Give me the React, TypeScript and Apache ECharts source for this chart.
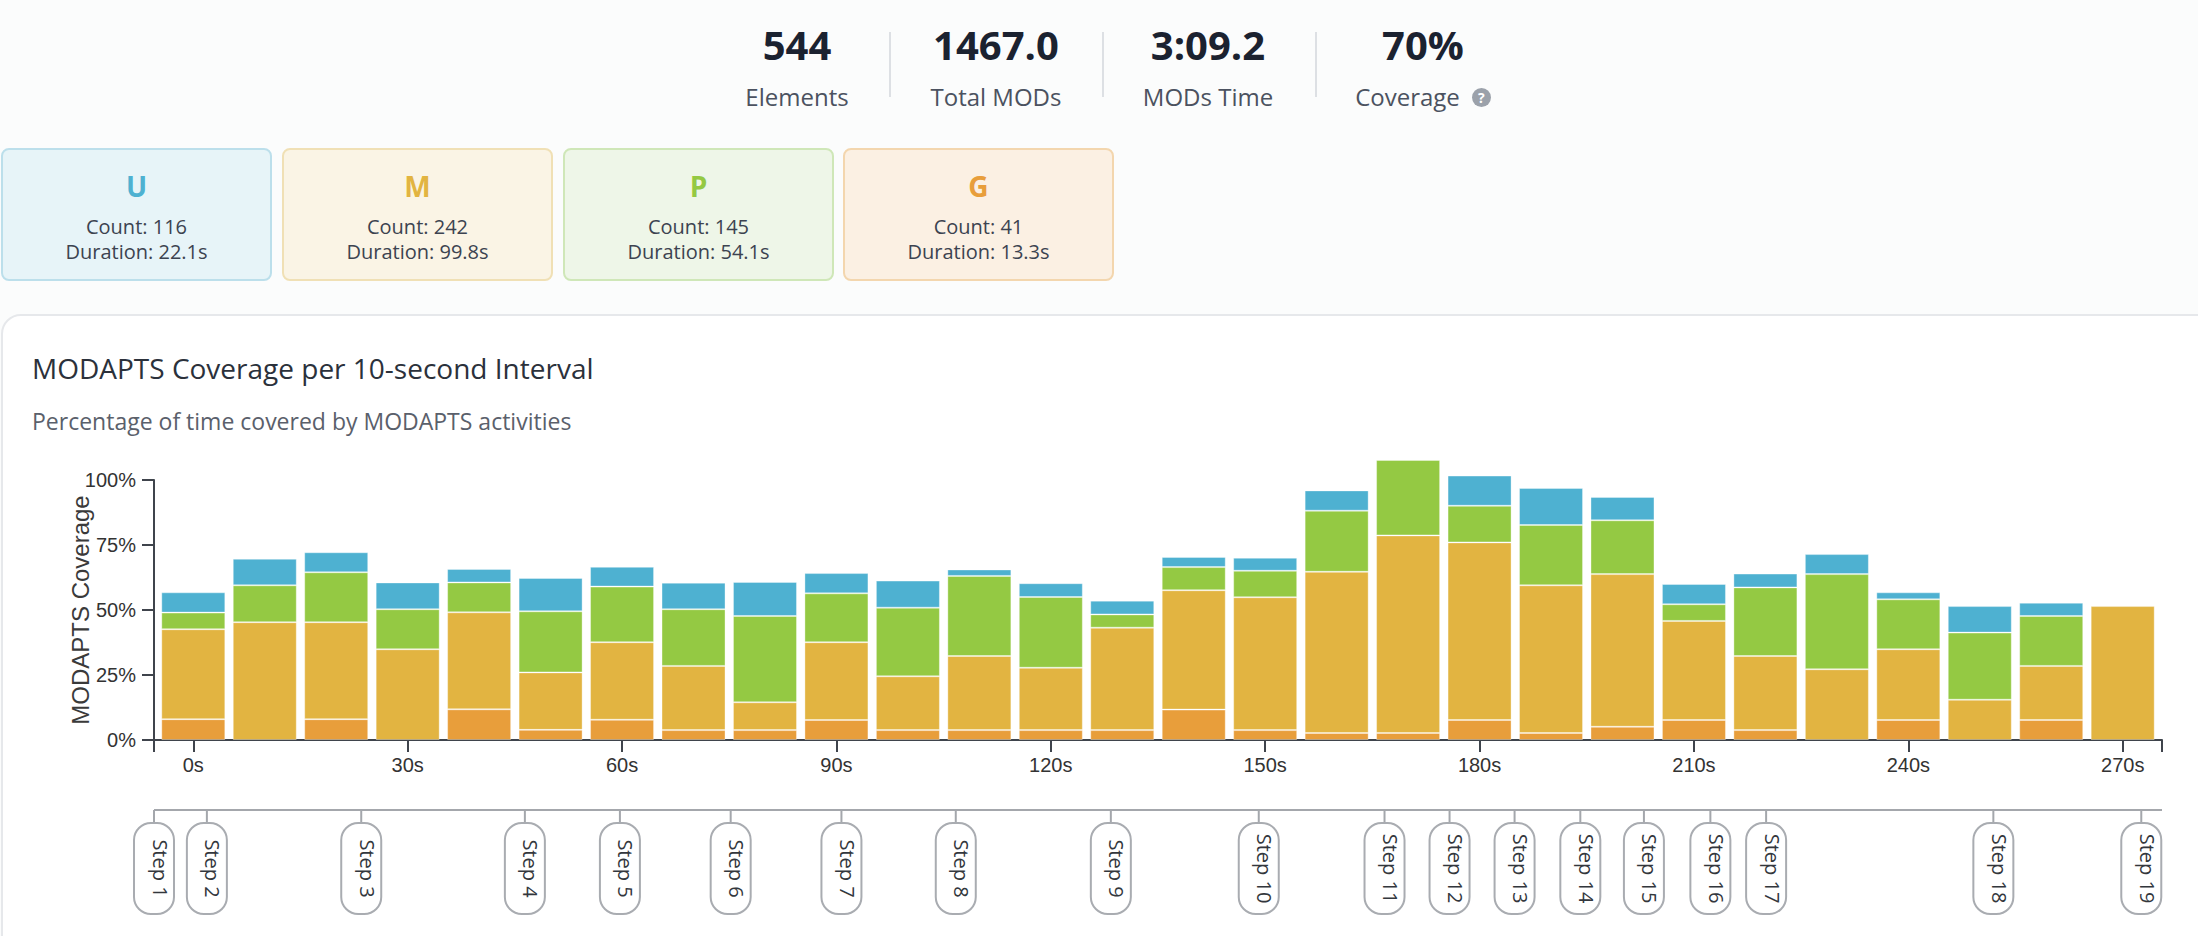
import React, { useEffect, useRef } from "react";
import * as echarts from "echarts";

// ---------- data ----------
const statValues = ["544", "1467.0", "3:09.2", "70%"];
const statLabels = ["Elements", "Total MODs", "MODs Time", "Coverage"];

const catNames = ["U", "M", "P", "G"];
const catCounts = [116, 242, 145, 41];
const catDurations = ["22.1s", "99.8s", "54.1s", "13.3s"];

const intervalTimes = [0, 10, 20, 30, 40, 50, 60, 70, 80, 90, 100, 110, 120, 130, 140, 150, 160, 170, 180, 190, 200, 210, 220, 230, 240, 250, 260, 270];
const gValues = [8.0, 0, 8.0, 0, 11.8, 3.9, 7.8, 3.8, 3.8, 7.7, 3.8, 3.8, 3.8, 3.8, 11.7, 3.8, 2.7, 2.7, 7.7, 2.7, 5.1, 7.7, 3.8, 0, 7.7, 0, 7.7, 0];
const mValues = [34.6, 45.3, 37.3, 34.9, 37.3, 22.1, 29.8, 24.7, 10.7, 29.9, 20.7, 28.5, 24.0, 39.4, 45.9, 51.1, 62.0, 76.0, 68.3, 56.8, 58.7, 38.1, 28.5, 27.2, 27.2, 15.5, 20.8, 51.5];
const pValues = [6.4, 14.2, 19.2, 15.4, 11.5, 23.5, 21.4, 21.8, 33.2, 18.8, 26.4, 30.8, 27.2, 5.1, 8.9, 10.2, 23.5, 29.0, 14.1, 23.2, 20.7, 6.4, 26.4, 36.6, 19.2, 25.8, 19.2, 0];
const uValues = [7.8, 10.2, 7.7, 10.3, 5.2, 12.8, 7.6, 10.2, 13.1, 7.8, 10.4, 2.5, 5.3, 5.3, 3.9, 5.0, 7.8, 0, 11.6, 14.2, 9.0, 7.8, 5.3, 7.7, 2.7, 10.2, 5.1, 0];

const xTickValues = [0, 30, 60, 90, 120, 150, 180, 210, 240, 270];
const xDomain = [-5.5, 275.5];

const stepLabels = ["Step 1", "Step 2", "Step 3", "Step 4", "Step 5", "Step 6", "Step 7", "Step 8", "Step 9", "Step 10", "Step 11", "Step 12", "Step 13", "Step 14", "Step 15", "Step 16", "Step 17", "Step 18", "Step 19"];
const stepTimes = [-5.5, 1.9, 23.5, 46.4, 59.7, 75.2, 90.7, 106.7, 128.4, 149.1, 166.7, 175.8, 184.9, 194.1, 203.0, 212.3, 220.1, 251.9, 272.6];

// ---------- styles ----------
const COLORS: Record<string, string> = { U: "#4EB1D1", M: "#E2B441", P: "#94C943", G: "#E89E3B" };
const BOX_BG: Record<string, string> = { U: "#E7F4F8", M: "#FAF4E5", P: "#EEF6E8", G: "#FBF0E3" };
const BOX_BORDER: Record<string, string> = { U: "#BCDFEB", M: "#F0E0B5", P: "#CFE7B8", G: "#F3D6AE" };
const statCenters = [797, 996, 1208, 1423];
const dividerX = [890, 1103, 1316];
const boxLeft = [1, 282, 563, 843];

const FONT = "'Open Sans', 'Noto Sans', sans-serif";
const AXIS_FONT = "'Liberation Sans', Arial, sans-serif";

function Chart() {
  const ref = useRef<HTMLDivElement>(null);
  useEffect(() => {
    if (!ref.current) return;
    const chart = echarts.init(ref.current, undefined, { renderer: "svg" });
    const axisColor = "#3f444c";
    // value first so that the stack is computed on the y dimension (by index)
    const mk = (name: string, vals: number[]) => ({
      name,
      type: "bar",
      stack: "cov",
      barWidth: 64,
      clip: false,
      encode: { x: 1, y: 0 },
      itemStyle: { color: COLORS[name], borderColor: "rgba(255,255,255,0.35)", borderWidth: 1 },
      data: intervalTimes.map((t, i) => [vals[i] > 0 ? vals[i] : null, t]),
    });
    chart.setOption({
      animation: false,
      title: [
        {
          text: "MODAPTS Coverage per 10-second Interval",
          left: 32,
          top: 40,
          padding: 0,
          textStyle: { fontSize: 28, fontWeight: "normal", color: "#2b313b", fontFamily: FONT },
        },
        {
          text: "Percentage of time covered by MODAPTS activities",
          left: 32,
          top: 95,
          padding: 0,
          textStyle: { fontSize: 23, fontWeight: "normal", color: "#5a606b", fontFamily: FONT },
        },
      ],
      grid: { left: 154, right: 36, top: 166, height: 260, containLabel: false, outerBoundsMode: "none" },
      xAxis: {
        type: "value",
        min: xDomain[0],
        max: xDomain[1],
        axisLine: { show: true, onZero: false, lineStyle: { color: axisColor, width: 2 } },
        axisTick: {
          show: true,
          length: 12,
          lineStyle: { color: axisColor, width: 2 },
          customValues: [xDomain[0], ...xTickValues, xDomain[1]],
        },
        axisLabel: {
          customValues: xTickValues,
          formatter: (v: number) => v + "s",
          fontSize: 20,
          color: "#333",
          fontFamily: AXIS_FONT,
          margin: 15,
        },
        splitLine: { show: false },
      },
      yAxis: {
        type: "value",
        min: 0,
        max: 100,
        interval: 25,
        name: "MODAPTS Coverage",
        nameLocation: "middle",
        nameGap: 62,
        nameMoveOverlap: false,
        nameTextStyle: { fontSize: 24, color: "#3a3a3a", fontFamily: AXIS_FONT },
        axisLine: { show: true, onZero: false, lineStyle: { color: axisColor, width: 2 } },
        axisTick: { show: true, length: 12, lineStyle: { color: axisColor, width: 2 } },
        axisLabel: { formatter: "{value}%", fontSize: 20, color: "#333", fontFamily: AXIS_FONT, margin: 18 },
        splitLine: { show: false },
      },
      series: [
        mk("G", gValues),
        mk("M", mValues),
        mk("P", pValues),
        mk("U", uValues),
        {
          type: "custom",
          name: "timeline",
          clip: false,
          silent: true,
          data: [[xDomain[0], xDomain[1]]],
          encode: { x: [0, 1] },
          renderItem: (params: any, api: any) => {
            const a = api.coord([api.value(0), 0]);
            const b = api.coord([api.value(1), 0]);
            return {
              type: "line",
              shape: { x1: a[0], y1: a[1] + 70, x2: b[0], y2: b[1] + 70 },
              style: { stroke: "#a4a7ac", lineWidth: 2 },
            };
          },
        },
        {
          type: "custom",
          name: "steps",
          clip: false,
          silent: true,
          data: stepTimes.map((t) => [t]),
          encode: { x: 0 },
          renderItem: (params: any, api: any) => {
            const p = api.coord([api.value(0), 0]);
            const x = p[0];
            const y0 = p[1];
            return {
              type: "group",
              children: [
                {
                  type: "line",
                  shape: { x1: x, y1: y0 + 70, x2: x, y2: y0 + 83 },
                  style: { stroke: "#a4a7ac", lineWidth: 2 },
                },
                {
                  type: "rect",
                  shape: { x: x - 20, y: y0 + 83, width: 40, height: 91, r: 17 },
                  style: { fill: "#ffffff", stroke: "#a9acb1", lineWidth: 2 },
                },
                {
                  type: "text",
                  x: x + 6,
                  y: y0 + 83 + 45.5,
                  rotation: -Math.PI / 2,
                  style: {
                    text: stepLabels[params.dataIndex],
                    fontSize: 20,
                    fontFamily: FONT,
                    fill: "#33373d",
                    align: "center",
                    verticalAlign: "middle",
                  },
                },
              ],
            };
          },
        },
      ],
    });
    return () => chart.dispose();
  }, []);
  return <div ref={ref} style={{ position: "absolute", left: 0, top: 314, width: 2198, height: 622 }} />;
}

export default function App() {
  return (
    <div
      style={{
        position: "absolute",
        left: 0,
        top: 0,
        width: 2198,
        height: 936,
        overflow: "hidden",
        background: "#fbfcfc",
        fontFamily: FONT,
      }}
    >
      {statValues.map((v, i) => (
        <div
          key={"v" + i}
          style={{
            position: "absolute",
            left: statCenters[i] - 200,
            width: 400,
            top: 24.5,
            textAlign: "center",
            fontSize: 40,
            lineHeight: "40px",
            fontWeight: 700,
            color: "#1b2230",
          }}
        >
          {v}
        </div>
      ))}
      {statLabels.map((l, i) => (
        <div
          key={"l" + i}
          style={{
            position: "absolute",
            left: statCenters[i] - 200,
            width: 400,
            top: 85,
            display: "flex",
            justifyContent: "center",
            alignItems: "center",
            fontSize: 24,
            lineHeight: "24px",
            color: "#4b5260",
          }}
        >
          <span>{l}</span>
          {i === statLabels.length - 1 ? (
            <span
              style={{
                display: "inline-block",
                marginLeft: 12,
                width: 19,
                height: 19,
                borderRadius: "50%",
                background: "#9ba1aa",
                color: "#fff",
                fontSize: 14,
                lineHeight: "19px",
                fontWeight: 700,
                textAlign: "center",
              }}
            >
              ?
            </span>
          ) : null}
        </div>
      ))}
      {dividerX.map((x, i) => (
        <div
          key={"d" + i}
          style={{ position: "absolute", left: x - 1, top: 32, width: 2, height: 65, background: "#dde0e4" }}
        />
      ))}
      {catNames.map((c, i) => (
        <div
          key={"b" + i}
          style={{
            position: "absolute",
            left: boxLeft[i],
            top: 148,
            width: 271,
            height: 133,
            boxSizing: "border-box",
            border: "2px solid " + BOX_BORDER[c],
            borderRadius: 8,
            background: BOX_BG[c],
          }}
        >
          <div
            style={{
              position: "absolute",
              left: 0,
              right: 0,
              top: 171.8 - 150,
              textAlign: "center",
              fontSize: 28,
              lineHeight: "28px",
              fontWeight: 700,
              color: COLORS[c],
            }}
          >
            {c}
          </div>
          <div
            style={{
              position: "absolute",
              left: 0,
              right: 0,
              top: 216.5 - 150,
              textAlign: "center",
              fontSize: 20,
              lineHeight: "20px",
              color: "#3c4350",
            }}
          >
            Count: {catCounts[i]}
          </div>
          <div
            style={{
              position: "absolute",
              left: 0,
              right: 0,
              top: 241.5 - 150,
              textAlign: "center",
              fontSize: 20,
              lineHeight: "20px",
              color: "#3c4350",
            }}
          >
            Duration: {catDurations[i]}
          </div>
        </div>
      ))}
      <div
        style={{
          position: "absolute",
          left: 1,
          top: 314,
          width: 2400,
          height: 800,
          boxSizing: "border-box",
          border: "2px solid #e6e8eb",
          borderRadius: 20,
          background: "#ffffff",
        }}
      />
      <Chart />
    </div>
  );
}
